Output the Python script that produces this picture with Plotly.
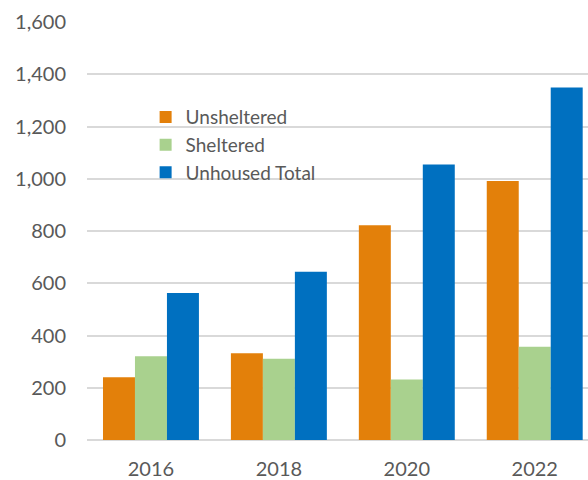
import plotly.graph_objects as go

# Unhoused population counts by survey year
years = ["2016", "2018", "2020", "2022"]
unsheltered = [240, 332, 822, 991]
sheltered = [321, 311, 232, 357]
unhoused_total = [563, 644, 1055, 1349]

y_ticks = [0, 200, 400, 600, 800, 1000, 1200, 1400, 1600]

text_color = "#595959"
grid_color = "#D9D9D9"
font_family = "Lato, 'Open Sans', sans-serif"

fig = go.Figure()
fig.add_trace(go.Bar(name="Unsheltered", x=years, y=unsheltered,
                     marker=dict(color="#E3800A", line=dict(width=0))))
fig.add_trace(go.Bar(name="Sheltered", x=years, y=sheltered,
                     marker=dict(color="#A9D18E", line=dict(width=0))))
fig.add_trace(go.Bar(name="Unhoused Total", x=years, y=unhoused_total,
                     marker=dict(color="#0070C0", line=dict(width=0))))

fig.update_layout(
    width=588,
    height=480,
    barmode="group",
    bargap=0.25,
    bargroupgap=0,
    plot_bgcolor="white",
    paper_bgcolor="white",
    margin=dict(l=87, r=0, t=22, b=40),
    font=dict(family=font_family, color=text_color, size=20),
    legend=dict(
        x=0.117, y=0.818, xanchor="left", yanchor="top",
        bgcolor="rgba(255,255,255,0)",
        font=dict(size=19, color=text_color),
        tracegroupgap=0,
        itemwidth=30,
    ),
    xaxis=dict(
        type="category",
        range=[-0.5, 3.4164],
        showgrid=False,
        showline=False,
        ticks="",
        ticklabelstandoff=15,
        tickfont=dict(size=20, color=text_color),
    ),
    yaxis=dict(
        range=[0, 1600],
        tickvals=y_ticks,
        tickformat=",d",
        showgrid=True,
        gridcolor=grid_color,
        gridwidth=1.5,
        zeroline=True,
        zerolinecolor=grid_color,
        zerolinewidth=1.5,
        showline=False,
        ticks="",
        ticklabelstandoff=20,
        tickfont=dict(size=20, color=text_color),
    ),
)

fig.write_html("out.html")
